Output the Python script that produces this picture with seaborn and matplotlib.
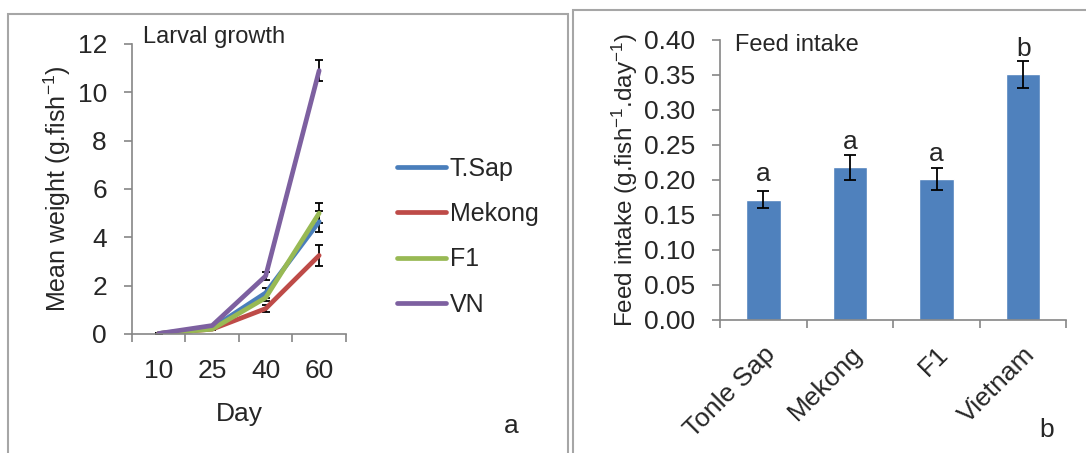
import numpy as np
import pandas as pd
import seaborn as sns
import matplotlib.pyplot as plt
from matplotlib.patches import Rectangle

# panel a: larval growth
days = ["10", "25", "40", "60"]
strains = ["T.Sap", "Mekong", "F1", "VN"]
tsap = [0.02, 0.25, 1.70, 4.65]
mekong = [0.02, 0.20, 1.05, 3.25]
f1 = [0.02, 0.20, 1.50, 5.00]
vn = [0.02, 0.35, 2.40, 10.90]
tsap_err = [0.02, 0.03, 0.20, 0.45]
mekong_err = [0.02, 0.03, 0.15, 0.42]
f1_err = [0.02, 0.03, 0.15, 0.40]
vn_err = [0.02, 0.04, 0.17, 0.45]
line_colors = ["#4A7EBB", "#BE4B48", "#98B954", "#7D60A0"]

# panel b: feed intake
breeds = ["Tonle Sap", "Mekong", "F1", "Vietnam"]
intake = [0.172, 0.218, 0.201, 0.351]
intake_err = [0.012, 0.018, 0.016, 0.019]
letters = ["a", "a", "a", "b"]

sns.set_style("white")
plt.rcParams["font.family"] = ["Liberation Sans Narrow", "Liberation Sans", "DejaVu Sans"]
plt.rcParams["mathtext.default"] = "regular"
plt.rcParams["font.size"] = 19

axis_gray = "#868686"

growth = pd.DataFrame({
    "Day": days * 4,
    "weight": tsap + mekong + f1 + vn,
    "strain": np.repeat(strains, len(days)),
})

fig = plt.figure(figsize=(10.86, 4.53), dpi=100)
ax1 = fig.add_axes([0.1215, 0.2627, 0.197, 0.6402])
ax2 = fig.add_axes([0.663, 0.2936, 0.319, 0.6181])

sns.lineplot(data=growth, x="Day", y="weight", hue="strain", hue_order=strains,
             palette=line_colors, linewidth=3.4, sort=False, ax=ax1)
for vals, errs in zip([tsap, mekong, f1, vn], [tsap_err, mekong_err, f1_err, vn_err]):
    ax1.errorbar(days, vals, yerr=errs, fmt="none", ecolor="black",
                 elinewidth=1.3, capsize=3, capthick=1.3, zorder=1)

ax1.set_ylim(0, 12)
ax1.set_yticks(np.arange(0, 13, 2))
ax1.set_xlim(-0.5, len(days) - 0.5)
ax1.set_xticks(np.arange(-0.5, len(days)), labels=[""] * (len(days) + 1))
ax1.set_xticks(np.arange(len(days)), labels=days, minor=True)
ax1.tick_params(axis="x", which="minor", length=0, pad=18)
ax1.set_xlabel("Day", labelpad=14)
ax1.set_ylabel("Mean weight (g.fish$^{-1}$)", labelpad=3, fontsize=18)
ax1.text(0.05, 1.025, "Larval growth", transform=ax1.transAxes, va="center", fontsize=17)
sns.move_legend(ax1, "center left", bbox_to_anchor=(1.24, 0.335), frameon=False,
                title=None, borderpad=0, borderaxespad=0, handlelength=1.95,
                handletextpad=0.15, labelspacing=0.85, fontsize=18)
for h in ax1.get_legend().legend_handles:
    h.set_linewidth(3.4)

sns.barplot(x=breeds, y=intake, color="#4F81BD", width=0.4, saturation=1, ax=ax2)
ax2.errorbar(np.arange(len(breeds)), intake, yerr=intake_err, fmt="none",
             ecolor="black", elinewidth=1.3, capsize=4.5, capthick=1.3)
for i, (v, lt) in enumerate(zip(intake, letters)):
    ax2.text(i, v + 0.026, lt, ha="center", va="baseline")
ax2.set_ylim(0, 0.40)
ax2.set_yticks(np.arange(0, 0.401, 0.05))
ax2.yaxis.set_major_formatter(plt.FormatStrFormatter("%.2f"))
ax2.set_xlim(-0.5, len(breeds) - 0.5)
ax2.set_xticks(np.arange(-0.5, len(breeds)), labels=[""] * (len(breeds) + 1))
ax2.set_xticks(np.arange(len(breeds)), labels=breeds, minor=True)
ax2.tick_params(axis="x", which="minor", length=0, pad=16)
for lab in ax2.get_xticklabels(minor=True):
    lab.set_rotation(45)
    lab.set_ha("right")
    lab.set_rotation_mode("anchor")
ax2.set_ylabel("Feed intake (g.fish$^{-1}$.day$^{-1}$)", labelpad=3, fontsize=17.5)
ax2.text(0.043, 0.982, "Feed intake", transform=ax2.transAxes, va="center", fontsize=17)

for ax in (ax1, ax2):
    sns.despine(ax=ax)
    for s in ("left", "bottom"):
        ax.spines[s].set_color(axis_gray)
        ax.spines[s].set_linewidth(1.2)
    ax.tick_params(axis="both", which="major", direction="out", length=6,
                   width=1.2, color=axis_gray, left=True, bottom=True)
    ax.tick_params(axis="y", pad=12)

# panel frames and letters
fig.add_artist(Rectangle((0.0074, -0.05), 0.516, 1.019, transform=fig.transFigure,
                         fill=False, edgecolor="#A6A6A6", lw=1.5))
fig.add_artist(Rectangle((0.5276, -0.05), 0.5, 1.028, transform=fig.transFigure,
                         fill=False, edgecolor="#A6A6A6", lw=1.5))
fig.text(0.471, 0.045, "a", fontsize=19, ha="center")
fig.text(0.964, 0.035, "b", fontsize=19, ha="center")

fig.savefig("out.png", dpi=100)
